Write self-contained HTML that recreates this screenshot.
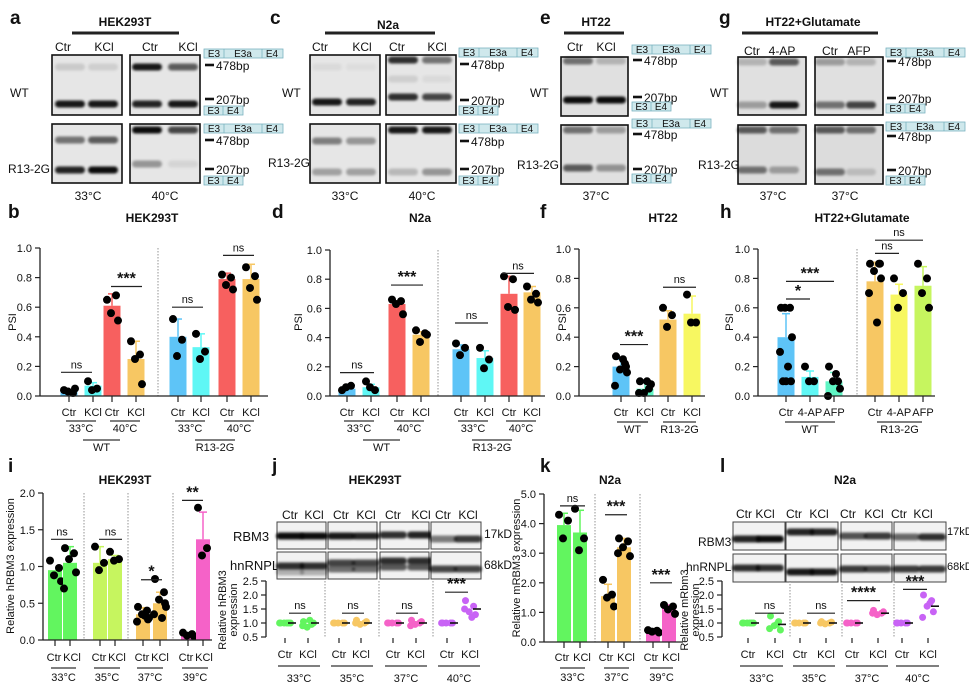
<!DOCTYPE html>
<html><head><meta charset="utf-8"><style>
html,body{margin:0;padding:0;background:#fff}
svg{display:block;font-family:"Liberation Sans",Arial,sans-serif}
</style></head><body>
<svg id="s" xmlns="http://www.w3.org/2000/svg" width="969" height="687" viewBox="0 0 969 687">
<defs><filter id="bl" x="-20%" y="-100%" width="140%" height="300%"><feGaussianBlur stdDeviation="1.4"/></filter></defs>
</svg>
<script>
const NS="http://www.w3.org/2000/svg",S=document.getElementById('s');
function el(t,a,txt){const e=document.createElementNS(NS,t);for(const k in a)e.setAttribute(k,a[k]);if(txt!=null)e.textContent=txt;S.appendChild(e);return e;}
function T(x,y,s,o={}){const a={x:x,y:y,'font-size':o.fs||11,'text-anchor':o.a||'middle',fill:o.c||'#111'};if(o.b)a['font-weight']='bold';if(o.r)a.transform=`rotate(-90 ${x} ${y})`;return el('text',a,s);}
function L(x1,y1,x2,y2,w,c,d){const a={x1,y1,x2,y2,stroke:c||'#222','stroke-width':w||1};if(d)a['stroke-dasharray']=d;return el('line',a);}
function R(x,y,w,h,f,st,sw){return el('rect',{x,y,width:w,height:h,fill:f||'none',stroke:st||'none','stroke-width':sw||1});}
function C(x,y,r,f){return el('circle',{cx:x,cy:y,r:r,fill:f||'#000'});}
const col={blue:'#5ec4f7',cyan:'#5ff7f5',red:'#f7605f',orange:'#f7c763',yellow:'#f7f761',lime:'#c6f55f',green:'#62f55f',pink:'#f562c8',teal:'#5ff5c4',purple:'#c863f5'};

// ---------- gels ----------
function gel(x,y,w,h,lanes,bands,bg){R(x,y,w,h,bg||'#e6e6e6','#111',1.6);
 bands.forEach(b=>{lanes.forEach((lx,i)=>{const d=b[1][i];if(d>0){el('rect',{x:lx-15,y:b[0]-3.5,width:30,height:7,rx:3.5,fill:`rgba(0,0,0,${d})`,filter:'url(#bl)'});}});});}
function longBox(x,y){R(x,y,79,9,'#cfe8ec','#7ab3c0',0.8);L(x+20,y,x+20,y+9,0.8,'#7ab3c0');L(x+58,y,x+58,y+9,0.8,'#7ab3c0');
 T(x+10,y+8,'E3',{fs:10});T(x+39,y+8,'E3a',{fs:10});T(x+68,y+8,'E4',{fs:10});}
function shortBox(x,y){R(x,y,39,9,'#cfe8ec','#7ab3c0',0.8);L(x+19,y,x+19,y+9,0.8,'#7ab3c0');T(x+9.5,y+8,'E3',{fs:10});T(x+29,y+8,'E4',{fs:10});}
function mark(x,y,s){L(x,y,x+9,y,2.6,'#111');T(x+11,y+5,s,{fs:12,a:'start'});}
function annot(x,ys){longBox(x,ys[0]);mark(x+1,ys[1],'478bp');mark(x+1,ys[2],'207bp');shortBox(x,ys[3]);
 longBox(x,ys[4]);mark(x+1,ys[5],'478bp');mark(x+1,ys[6],'207bp');shortBox(x,ys[7]);}

// panel a
T(10,24,'a',{fs:19,b:1,a:'start'});T(125,26,'HEK293T',{b:1,fs:12});L(72,33,179,33,3,'#222');
[['Ctr',63],['KCl',104],['Ctr',150],['KCl',188]].forEach(d=>T(d[1],51,d[0],{fs:12}));
T(10,97,'WT',{fs:12,a:'start'});T(8,173,'R13-2G',{fs:12,a:'start'});
gel(52,55,70,60,[70,103],[[67,[.12,.1]],[104,[.9,.9]]]);
gel(130,55,70,60,[147,183],[[67,[.9,.6]],[104,[.85,.9]]]);
gel(52,124,70,59,[70,103],[[140,[.5,.6]],[170,[.85,.95]]]);
gel(130,124,70,59,[147,183],[[130,[.95,.7]],[164,[.35,.08]]]);
annot(204,[49,65,99,106,124,140,169,176]);
T(88,200,'33°C',{fs:12});T(165,200,'40°C',{fs:12});

// panel c
T(270,24,'c',{fs:19,b:1,a:'start'});T(388,29,'N2a',{b:1,fs:12});L(325,33,435,33,3,'#222');
[['Ctr',320],['KCl',362],['Ctr',397],['KCl',437]].forEach(d=>T(d[1],51,d[0],{fs:12}));
T(282,97,'WT',{fs:12,a:'start'});T(268,167,'R13-2G',{fs:12,a:'start'});
gel(310,55,70,60,[327,361],[[67,[.05,.04]],[102,[.9,.85]]]);
gel(386,55,70,60,[403,437],[[60,[.8,.5]],[97,[.8,.7]],[79,[.1,.05]]]);
gel(310,124,70,59,[327,361],[[141,[.45,.35]],[172,[.3,.3]]]);
gel(386,124,70,59,[403,437],[[130,[.9,.9]],[172,[.2,.35]]]);
annot(459,[48,64,100,106,124,141,169,176]);
T(345,200,'33°C',{fs:12});T(422,200,'40°C',{fs:12});

// panel e
T(540,24,'e',{fs:19,b:1,a:'start'});T(596,26,'HT22',{b:1,fs:12});L(564,33,624,33,3,'#222');
T(575,51,'Ctr',{fs:12});T(606,51,'KCl',{fs:12});
T(530,97,'WT',{fs:12,a:'start'});T(517,169,'R13-2G',{fs:12,a:'start'});
gel(561,57,67,59,[578,611],[[61,[.5,.2]],[100,[.95,.95]]],'#e0e0e0');
gel(561,125,67,59,[578,611],[[130,[.5,.3]],[168,[.6,.35]]],'#e0e0e0');
annot(632,[45,60,97,102,119,134,169,174]);
T(596,200,'37°C',{fs:12});

// panel g
T(719,24,'g',{fs:19,b:1,a:'start'});T(813,26,'HT22+Glutamate',{b:1,fs:12});L(742,33,878,33,3,'#222');
[['Ctr',752],['4-AP',782],['Ctr',830],['AFP',859]].forEach(d=>T(d[1],55,d[0],{fs:12}));
T(710,97,'WT',{fs:12,a:'start'});T(698,169,'R13-2G',{fs:12,a:'start'});
gel(738,57,68,58,[752,784],[[62,[.2,.6]],[105,[.3,.9]]],'#e0e0e0');
gel(815,57,68,58,[830,861],[[62,[.3,.2]],[105,[.5,.7]]],'#e0e0e0');
gel(738,125,68,59,[752,784],[[130,[.6,.5]],[170,[.5,.3]]],'#dcdcdc');
gel(815,125,68,59,[830,861],[[130,[.6,.5]],[172,[.5,.15]]],'#dcdcdc');
annot(886,[48,61,98,104,122,136,170,176]);
T(773,200,'37°C',{fs:12});T(845,200,'37°C',{fs:12});

// ---------- bar charts ----------
const jit=[-5,4,-1,6,-6,2,5,-3,0];
function bc(c){const Y=v=>c.yb-(v-(c.min||0))/(c.max-(c.min||0))*(c.yb-c.yt);
 (c.seps||[]).forEach(x=>L(x,c.yt,x,c.yb,0.9,'#888','1.5,1.5'));
 c.bars.forEach(b=>{if(b.v!=null){R(b.x-c.bw/2,Y(b.v),c.bw,c.yb-Y(b.v),b.c);
  if(b.e){L(b.x,Y(b.v),b.x,Y(b.v+b.e),1.5,b.c);L(b.x-4,Y(b.v+b.e),b.x+4,Y(b.v+b.e),1.5,b.c);}}
  (b.p||[]).forEach((p,i)=>C(b.x+(b.dot? jit[i]*0.9 : jit[i]),Y(p),b.r||4,b.dot||'#000'));
  if(b.dot){L(b.x+3,Y(b.m||1),b.x+11,Y(b.m||1),1.6,'#111');}
  L(b.x,c.yb+(c.noAxis?1:0),b.x,c.yb+6,1.2,'#222');});
 L(c.ax,c.yt,c.ax,c.yb,1.3,'#222');if(!c.noAxis)L(c.ax,c.yb,c.xe,c.yb,1.3,'#222');
 c.ticks.forEach(v=>{L(c.ax-5,Y(v),c.ax,Y(v),1.2,'#222');T(c.ax-8,Y(v)+4,v.toFixed(1),{fs:c.tfs||11,a:'end'});});
 (c.sig||[]).forEach(s=>{L(s[0],Y(s[2]),s[1],Y(s[2]),1.2,'#222');const st=s[3].indexOf('*')>=0;T((s[0]+s[1])/2,Y(s[2])-(st?3:4),s[3],{fs:st?16:11,b:st});});
 return Y;}
function cats(list,y){list.forEach(d=>T(d[1],y,d[0],{fs:11}));}
function grp(list,yl,yt){list.forEach(d=>{L(d[1],yl,d[2],yl,1.3,'#333');T((d[1]+d[2])/2,yt,d[0],{fs:11});});}

// panel b
T(8,218,'b',{fs:19,b:1,a:'start'});T(152,222,'HEK293T',{b:1,fs:12});T(16,322,'PSI',{r:1});
bc({ax:40,yb:396,yt:248,max:1,xe:268,bw:17,ticks:[0,.2,.4,.6,.8,1],seps:[158],
 bars:[{x:69,v:.03,c:col.blue,p:[.04,.02,.03,.05]},{x:93,v:.07,c:col.cyan,e:.02,p:[.10,.05,.04]},
 {x:112,v:.61,c:col.red,e:.08,p:[.65,.68,.56,.51]},{x:136,v:.25,c:col.orange,e:.12,p:[.37,.28,.25,.08]},
 {x:178,v:.40,c:col.blue,e:.12,p:[.52,.38,.27]},{x:201,v:.33,c:col.cyan,e:.09,p:[.42,.30,.25]},
 {x:227,v:.79,c:col.red,e:.04,p:[.82,.80,.75,.72]},{x:251,v:.79,c:col.orange,e:.10,p:[.87,.81,.73,.65]}],
 sig:[[61,92,.16,'ns'],[111,142,.74,'***'],[172,203,.60,'ns'],[223,254,.95,'ns']]});
cats([['Ctr',69],['KCl',93],['Ctr',112],['KCl',136],['Ctr',178],['KCl',201],['Ctr',227],['KCl',251]],416);
grp([['33°C',66,96],['40°C',110,140],['33°C',175,205],['40°C',224,254]],421,432);
grp([['WT',83,120],['R13-2G',195,235]],440,451);

// panel d
T(272,218,'d',{fs:19,b:1,a:'start'});T(420,222,'N2a',{b:1,fs:12});T(302,322,'PSI',{r:1});
bc({ax:330,yb:396,yt:250,max:1,xe:545,bw:17,ticks:[0,.2,.4,.6,.8,1],seps:[438],
 bars:[{x:347,v:.05,c:col.blue,p:[.04,.07,.06]},{x:371,v:.06,c:col.cyan,e:.02,p:[.10,.04,.06]},
 {x:397,v:.63,c:col.red,e:.01,p:[.66,.65,.63,.56]},{x:421,v:.42,c:col.orange,e:.02,p:[.45,.43,.37,.42]},
 {x:461,v:.32,c:col.blue,e:.03,p:[.36,.33,.28]},{x:485,v:.26,c:col.cyan,e:.05,p:[.33,.25,.19]},
 {x:509,v:.70,c:col.red,e:.12,p:[.82,.80,.61,.59]},{x:532,v:.71,c:col.orange,e:.04,p:[.75,.70,.66,.64]}],
 sig:[[340,374,.16,'ns'],[391,423,.76,'***'],[455,488,.50,'ns'],[502,534,.84,'ns']]});
cats([['Ctr',347],['KCl',371],['Ctr',397],['KCl',421],['Ctr',461],['KCl',485],['Ctr',509],['KCl',532]],416);
grp([['33°C',344,374],['40°C',394,424],['33°C',458,488],['40°C',506,536]],421,432);
grp([['WT',363,400],['R13-2G',472,512]],440,451);

// panel f
T(540,218,'f',{fs:19,b:1,a:'start'});T(663,222,'HT22',{b:1,fs:12});T(566,322,'PSI',{r:1});
bc({ax:579,yb:396,yt:249,max:1,xe:705,bw:17,ticks:[0,.2,.4,.6,.8,1],
 bars:[{x:621,v:.20,c:col.blue,e:.05,p:[.27,.22,.18,.16,.07,.25,.20]},{x:645,v:.05,c:col.teal,e:.04,p:[.10,.05,.02,.08,.02,.10]},
 {x:668,v:.52,c:col.orange,e:.06,p:[.60,.55,.47]},{x:692,v:.56,c:col.yellow,e:.12,p:[.69,.50,.50]}],
 sig:[[620,648,.35,'***'],[663,696,.74,'ns']]});
cats([['Ctr',621],['KCl',645],['Ctr',668],['KCl',692]],416);
grp([['WT',617,648],['R13-2G',663,696]],422,433);

// panel h
T(720,218,'h',{fs:19,b:1,a:'start'});T(862,222,'HT22+Glutamate',{b:1,fs:12});T(733,322,'PSI',{r:1});
bc({ax:758,yb:396,yt:249,max:1,xe:935,bw:17,ticks:[0,.2,.4,.6,.8,1],seps:[857],
 bars:[{x:786,v:.40,c:col.blue,e:.16,p:[.6,.6,.6,.4,.3,.2,.1,.1,.1]},{x:810,v:.13,c:col.cyan,e:.04,p:[.2,.1,.1]},
 {x:834,v:.10,c:col.teal,e:.06,p:[.2,.1,.1,.05,0,.15]},
 {x:875,v:.78,c:col.orange,e:.13,p:[.9,.9,.85,.8,.7,.5,.9]},{x:899,v:.69,c:col.yellow,e:.07,p:[.8,.7,.6]},
 {x:923,v:.75,c:col.lime,e:.13,p:[.9,.8,.7,.6]}],
 sig:[[786,810,.66,'*'],[786,834,.78,'***'],[875,899,.97,'ns'],[875,923,1.06,'ns']]});
cats([['Ctr',786],['4-AP',810],['AFP',834],['Ctr',875],['4-AP',899],['AFP',923]],416);
grp([['WT',785,835],['R13-2G',877,922]],422,433);

// panel i
T(8,472,'i',{fs:19,b:1,a:'start'});T(125,484,'HEK293T',{b:1,fs:12});T(14,566,'Relative hRBM3 expression',{r:1,fs:11});
bc({ax:43,yb:640,yt:493,max:2,xe:212,bw:14,ticks:[0,.5,1,1.5,2],seps:[84,128,173],
 bars:[{x:55,v:.95,c:col.green,p:[1.08,.98,.88,.8]},{x:70,v:1.05,c:col.green,e:.22,p:[1.25,1.18,1.1,.92,.7]},
 {x:100,v:1.05,c:col.lime,e:.22,p:[1.27,1.05,.95]},{x:115,v:1.1,c:col.lime,e:.05,p:[1.2,1.1,1.08]},
 {x:143,v:.35,c:col.orange,e:.09,p:[.45,.4,.35,.3,.25,.33,.28]},{x:160,v:.5,c:col.orange,e:.15,p:[.83,.65,.55,.45,.35,.3,.5]},
 {x:188,v:.07,c:col.pink,e:.02,p:[.1,.08,.06,.05]},{x:203,v:1.37,c:col.pink,e:.37,p:[1.8,1.25,1.15]}],
 sig:[[51,73,1.37,'ns'],[99,122,1.37,'ns'],[141,162,.82,'*'],[182,203,1.9,'**']]});
cats([['Ctr',54],['KCl',72],['Ctr',99],['KCl',117],['Ctr',142],['KCl',160],['Ctr',186],['KCl',204]],661);
grp([['33°C',51,76],['35°C',94,120],['37°C',137,163],['39°C',182,208]],668,681);

// western helper
function blot(x,y,w,h,lanes,dens,bands){R(x,y,w,h,'#f2f2f2','#444',1);
 lanes.forEach((lx,i)=>bands.forEach(b=>{const d=dens[i]*(b[1]);if(d>0)el('rect',{x:lx-14,y:b[0]-3.5,width:28,height:7,rx:3.5,fill:`rgba(0,0,0,${d})`,filter:'url(#bl)'});}));}

// panel j
T(272,472,'j',{fs:19,b:1,a:'start'});T(375,484,'HEK293T',{b:1,fs:12});
[['Ctr',290],['KCl',314],['Ctr',341],['KCl',366],['Ctr',393],['KCl',421],['Ctr',443],['KCl',468]].forEach(d=>T(d[1],519,d[0],{fs:12}));
T(233,541,'RBM3',{fs:13,a:'start'});T(230,570,'hnRNPL',{fs:13,a:'start'});
T(484,538,'17kD',{fs:12,a:'start'});T(484,569,'68kD',{fs:12,a:'start'});
blot(277,522,49,27,[290,314],[1,1],[[536,.95]]);blot(328,522,49,27,[341,366],[1,.95],[[536,.9]]);
blot(380,522,49,27,[393,421],[.85,.9],[[535,.95]]);blot(431,522,50,27,[443,468],[.55,.85],[[539,.9]]);
blot(277,552,49,27,[290,314],[.9,.9],[[566,.9],[572,.3]]);blot(328,552,49,27,[341,366],[.9,.9],[[563,.8],[569,.6]]);
blot(380,552,49,27,[393,421],[.9,.9],[[561,.9],[567,.7]]);blot(431,552,50,27,[443,468],[.8,.8],[[569,.9]]);
T(226,610,'Relative hRBM3',{r:1,fs:11});T(237,610,'expression',{r:1,fs:11});
function dots(c){return bc(Object.assign({yb:637,yt:581,min:.5,max:2.5,xe:0,bw:0,noAxis:1,ticks:[.5,1,1.5,2,2.5],tfs:11},c));}
dots({ax:266,seps:[325,379,433],bars:[
 {x:285,dot:col.green,r:3.5,p:[1,1,1,1,1,1]},{x:308,dot:col.green,r:3.5,p:[1.05,.95,.85,1.0,.9,1.1],m:1},
 {x:339,dot:col.orange,r:3.5,p:[1,1,1,1,1]},{x:361,dot:col.orange,r:3.5,p:[1.1,1,.95,1.05,1],m:1},
 {x:393,dot:col.pink,r:3.5,p:[1,1,1,1,1]},{x:416,dot:col.pink,r:3.5,p:[1.1,1,.95,1.05,.9],m:1},
 {x:447,dot:col.purple,r:3.5,p:[1,1,1,1,1]},{x:470,dot:col.purple,r:3.5,p:[1.8,1.6,1.4,1.3,1.5,1.2],m:1.5}],
 sig:[[289,311,1.35,'ns'],[342,364,1.35,'ns'],[396,418,1.35,'ns'],[445,468,2.1,'***']]});
cats([['Ctr',285],['KCl',308],['Ctr',339],['KCl',361],['Ctr',393],['KCl',416],['Ctr',447],['KCl',470]],658);
grp([['33°C',278,320],['35°C',331,373],['37°C',385,427],['40°C',438,480]],666,682);

// panel k
T(540,472,'k',{fs:19,b:1,a:'start'});T(610,484,'N2a',{b:1,fs:12});T(520,568,'Relative mRBM3 expression',{r:1,fs:11});
bc({ax:544,yb:642,yt:494,max:5,xe:683,bw:14,ticks:[0,1,2,3,4,5],seps:[595,640],
 bars:[{x:564,v:3.95,c:col.green,e:.4,p:[4.3,4.1,3.5]},{x:580,v:3.7,c:col.green,e:.75,p:[4.5,3.5,3.1]},
 {x:608,v:1.55,c:col.orange,e:.4,p:[2.1,1.6,1.5,1.2]},{x:624,v:3.2,c:col.orange,e:.3,p:[3.5,3.4,3.2,2.9,3.0]},
 {x:653,v:.35,c:col.pink,e:.05,p:[.4,.38,.35,.32]},{x:669,v:1.15,c:col.pink,e:.1,p:[1.25,1.2,1.1,.95]}],
 sig:[[560,585,4.6,'ns'],[605,627,4.3,'***'],[650,672,2.0,'***']]});
cats([['Ctr',562],['KCl',582],['Ctr',606],['KCl',626],['Ctr',651],['KCl',671]],661);
grp([['33°C',560,585],['37°C',604,629],['39°C',650,673]],668,681);

// panel l
T(720,472,'l',{fs:19,b:1,a:'start'});T(845,484,'N2a',{b:1,fs:12});
[['Ctr',744],['KCl',765],['Ctr',794],['KCl',819],['Ctr',848],['KCl',874],['Ctr',899],['KCl',923]].forEach(d=>T(d[1],518,d[0],{fs:12}));
T(698,546,'RBM3',{fs:12,a:'start'});T(686,571,'hnRNPL',{fs:12,a:'start'});
T(947,535,'17kD',{fs:11,a:'start'});T(947,570,'68kD',{fs:11,a:'start'});
blot(733,522,52,28,[746,770],[.9,1],[[539,.95]]);blot(786,522,52,28,[800,824],[.9,.9],[[532,.95]]);
blot(841,522,51,28,[853,878],[.7,.8],[[536,.95]]);blot(894,522,52,28,[906,932],[.6,.85],[[537,.95]]);
blot(733,554,52,28,[746,770],[.9,.9],[[568,.9]]);blot(786,554,52,28,[800,824],[.95,.95],[[572,.95]]);
blot(841,554,51,28,[853,878],[.85,.8],[[569,.9]]);blot(894,554,52,28,[906,932],[.85,.85],[[569,.9]]);
T(688,610,'Relative mRbm3',{r:1,fs:11});T(699,610,'expression',{r:1,fs:11});
dots({ax:722,seps:[790,842,894],bars:[
 {x:748,dot:col.green,r:3.5,p:[1,1,1,1,1,1]},{x:775,dot:col.green,r:3.5,p:[1.25,1.05,.9,.75,.8,.95],m:.95},
 {x:800,dot:col.orange,r:3.5,p:[1,1,1,1,1]},{x:826,dot:col.orange,r:3.5,p:[1.05,1,.97,1.03,1],m:1},
 {x:852,dot:col.pink,r:3.5,p:[1,1,1,1,1]},{x:878,dot:col.pink,r:3.5,p:[1.45,1.35,1.3,1.4,1.35],m:1.35},
 {x:902,dot:col.purple,r:3.5,p:[1,1,1,1,1]},{x:928,dot:col.purple,r:3.5,p:[2.0,1.8,1.6,1.4,1.2,1.7],m:1.6}],
 sig:[[755,784,1.35,'ns'],[807,835,1.35,'ns'],[847,880,1.8,'****'],[903,927,2.2,'***']]});
cats([['Ctr',748],['KCl',775],['Ctr',800],['KCl',826],['Ctr',852],['KCl',878],['Ctr',902],['KCl',928]],658);
grp([['33°C',740,783],['35°C',793,835],['37°C',846,888],['40°C',896,939]],666,682);
</script>
</body></html>
